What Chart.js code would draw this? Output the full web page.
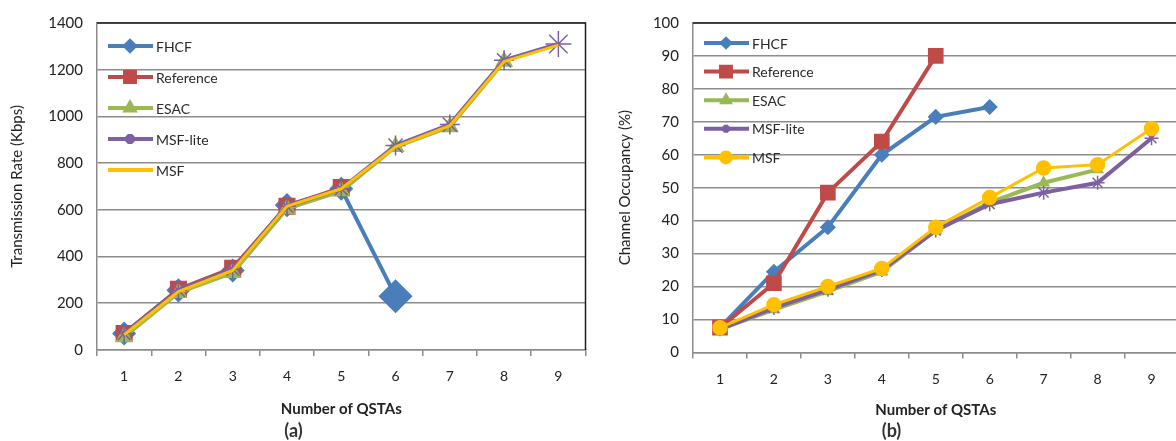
<!DOCTYPE html>
<html>
<head>
<meta charset="utf-8">
<script src="https://cdn.jsdelivr.net/npm/chart.js@4/dist/chart.umd.min.js"></script>
<style>
  html, body { margin: 0; padding: 0; background: #fff; overflow: hidden; }
  #wrap { position: relative; width: 1176px; height: 441px; overflow: hidden; }
  canvas { position: absolute; top: 0; }
  #rateChart { left: 0; }
  #occChart { left: 600px; }
</style>
</head>
<body>
<div id="wrap">
  <canvas id="rateChart" width="600" height="441"></canvas>
  <canvas id="occChart" width="590" height="441"></canvas>
</div>
<script>
// x categories
const qstas = ['1', '2', '3', '4', '5', '6', '7', '8', '9'];

// (a) transmission rate, Kbps
const rateFHCF = [70, 255, 340, 620, 690, 230, null, null, null];
const rateRef = [70, 260, 350, 615, 695, null, null, null, null];
const rateESAC = [55, 245, 330, 605, 680, 870, 955, 1235, null];
const rateLite = [70, 255, 345, 615, 690, 875, 965, 1240, 1310];
const rateMSF = [65, 250, 340, 615, 690, 870, 960, 1235, 1305];

// (b) channel occupancy, %
const occFHCF = [7.5, 24.5, 38, 60, 71.5, 74.5, null, null, null];
const occRef = [7.5, 21, 48.5, 64, 90, null, null, null, null];
const occESAC = [7, 13, 18.5, 24.5, 37, 45.5, 51.5, 55.5, null];
const occLite = [7, 13.5, 19, 25, 37, 45, 48.5, 51.5, 65];
const occMSF = [7.5, 14.5, 20, 25.5, 38, 47, 56, 57, 68];

const names = ['FHCF', 'Reference', 'ESAC', 'MSF-lite', 'MSF'];
const colors = ['#4A7EBB', '#BE4B48', '#98B954', '#7D60A0', '#FFC000'];
const FONT = 'Lato, "DejaVu Sans", sans-serif';

// legend drawn inside the plot area, Excel style
const legendBox = {
  id: 'legendBox',
  afterDraw(chart, args, opts) {
    const {ctx, chartArea} = chart;
    chart.data.datasets.forEach((ds, i) => {
      const y = chartArea.top + opts.top + i * opts.gap;
      const x0 = chartArea.left + opts.left;
      ctx.save();
      ctx.strokeStyle = ds.borderColor;
      ctx.lineWidth = 4;
      ctx.beginPath();
      ctx.moveTo(x0, y);
      ctx.lineTo(x0 + 45, y);
      ctx.stroke();
      if (ds.legendRadius) {
        ctx.fillStyle = ds.borderColor;
        ctx.strokeStyle = ds.borderColor;
        Chart.helpers.drawPoint(ctx, {pointStyle: ds.pointStyle, radius: ds.legendRadius, borderWidth: 1.5, rotation: 0}, x0 + 22, y);
      }
      ctx.fillStyle = '#2a2a2a';
      ctx.font = '14px ' + FONT;
      ctx.textBaseline = 'middle';
      ctx.fillText(ds.label, x0 + 48, y + 1);
      ctx.restore();
    });
  }
};

// dark top/right frame
const frame = {
  id: 'frame',
  beforeDatasetsDraw(chart) {
    const {ctx, chartArea} = chart;
    ctx.save();
    ctx.strokeStyle = '#1e1e1e';
    ctx.lineWidth = 1.5;
    ctx.beginPath();
    ctx.moveTo(chartArea.left, chartArea.top);
    ctx.lineTo(chartArea.right, chartArea.top);
    ctx.lineTo(chartArea.right, chartArea.bottom);
    ctx.stroke();
    ctx.restore();
  }
};

function makeSet(i, data, style, radius, legendRadius, width) {
  return {
    label: names[i],
    data: data,
    borderColor: colors[i],
    backgroundColor: colors[i],
    pointBackgroundColor: colors[i],
    pointBorderColor: colors[i],
    pointStyle: style,
    pointRadius: radius,
    pointBorderWidth: 1.5,
    borderWidth: width,
    legendRadius: legendRadius,
    order: 4 - i,
    tension: 0
  };
}

function makeOptions(cfg) {
  return {
    responsive: false,
    animation: false,
    layout: {padding: {top: cfg.padTop, right: cfg.padRight, left: 0, bottom: 0}},
    plugins: {
      legend: {display: false},
      tooltip: {enabled: false},
      title: {
        display: true,
        position: 'bottom',
        text: cfg.sub,
        color: '#333',
        font: {family: FONT, size: 18, lineHeight: 1.1},
        padding: {top: 0, bottom: 0}
      },
      legendBox: {top: cfg.legendTop, gap: cfg.legendGap, left: 11}
    },
    scales: {
      x: {
        offset: true,
        grid: {offset: true, drawOnChartArea: false, drawTicks: true, tickLength: 6, color: '#8c8c8c', lineWidth: 1.5},
        border: {color: '#8c8c8c', width: 1.5},
        ticks: {color: '#222', font: {family: FONT, size: 14}, padding: cfg.tickPad},
        title: {display: true, text: 'Number of QSTAs', color: '#222', font: {family: FONT, size: 15, weight: 'bold'}, padding: {top: cfg.xtTop, bottom: cfg.xtBottom}}
      },
      y: {
        min: 0,
        max: cfg.yMax,
        afterFit: (s) => { s.width = cfg.yWidth; },
        grid: {color: '#8c8c8c', lineWidth: 1.5, drawTicks: false},
        border: {color: '#8c8c8c', width: 1.5},
        ticks: {stepSize: cfg.yStep, color: '#222', font: {family: FONT, size: 15}, padding: 14, callback: (v) => String(v)},
        title: {display: true, text: cfg.yTitle, color: '#222', font: {family: FONT, size: 15}, padding: {top: cfg.ytPad, bottom: 0}}
      }
    }
  };
}

new Chart(document.getElementById('rateChart'), {
  type: 'line',
  data: {
    labels: qstas,
    datasets: [
      makeSet(0, rateFHCF, 'rectRot', [11, 11, 11, 11, 11, 16, 0, 0, 0], 5, 4),
      makeSet(1, rateRef, 'rect', 11, 7, 4),
      makeSet(2, rateESAC, 'triangle', 9, 5, 4),
      makeSet(3, rateLite, 'star', [9, 9, 9, 9, 9, 10, 10, 10, 13], 5, 4),
      makeSet(4, rateMSF, 'circle', 0, 0, 3)
    ]
  },
  options: makeOptions({
    yMax: 1400, yStep: 200, yTitle: 'Transmission Rate (Kbps)', sub: '(a)',
    yWidth: 97, padTop: 23, padRight: 13, legendTop: 23, legendGap: 31,
    tickPad: 12, xtTop: 3, xtBottom: 3.5, ytPad: 8
  }),
  plugins: [legendBox, frame]
});

new Chart(document.getElementById('occChart'), {
  type: 'line',
  data: {
    labels: qstas,
    datasets: [
      makeSet(0, occFHCF, 'rectRot', 7, 4, 4),
      makeSet(1, occRef, 'rect', 10, 7, 4),
      makeSet(2, occESAC, 'triangle', 6, 4, 4),
      makeSet(3, occLite, 'star', 7, 4, 4),
      makeSet(4, occMSF, 'circle', 7, 5, 3)
    ]
  },
  options: makeOptions({
    yMax: 100, yStep: 10, yTitle: 'Channel Occupancy (%)', sub: '(b)',
    yWidth: 93, padTop: 22, padRight: 7, legendTop: 20, legendGap: 28.6,
    tickPad: 13, xtTop: 0, xtBottom: 2, ytPad: 16
  }),
  plugins: [legendBox, frame]
});
</script>
</body>
</html>
